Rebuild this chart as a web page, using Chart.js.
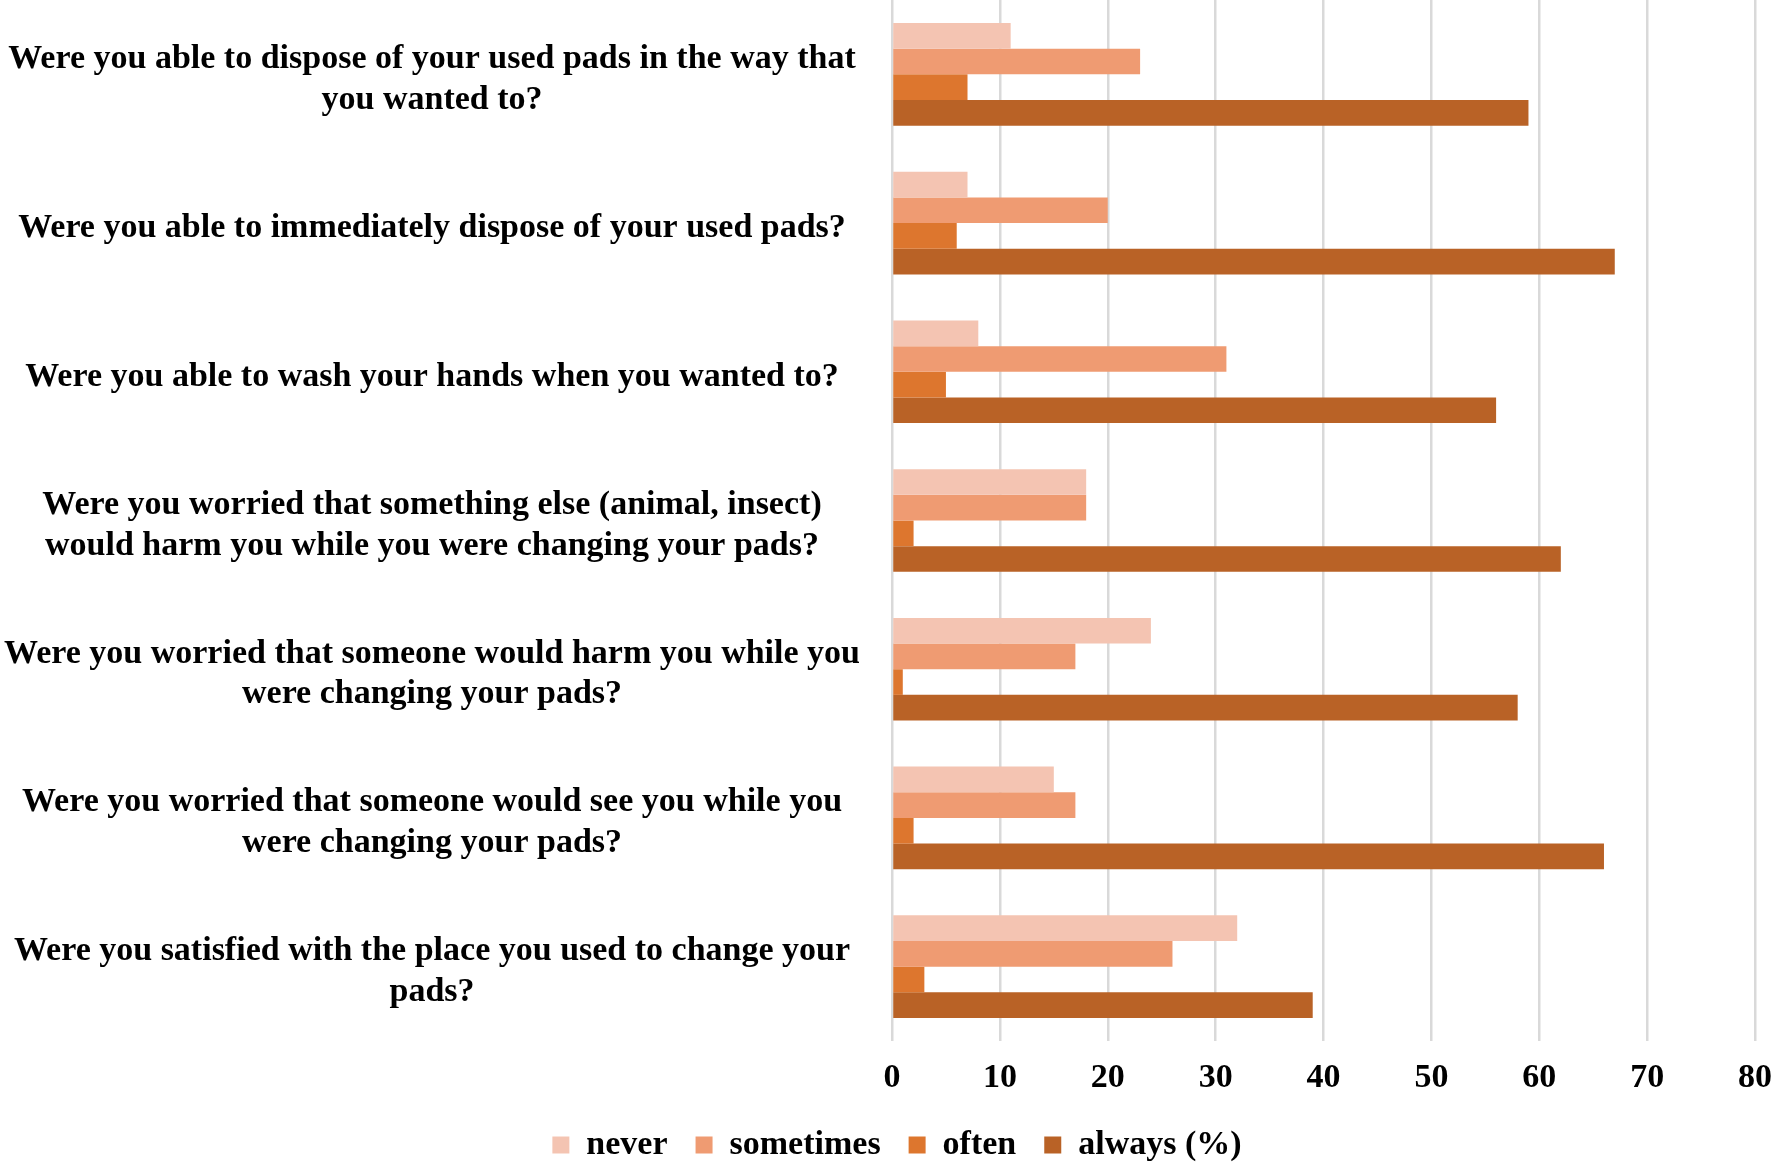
<!DOCTYPE html>
<html>

<head>
  <script src="https://cdn.jsdelivr.net/npm/chart.js@4/dist/chart.umd.min.js"></script>
  <style>
    body { margin: 0; background: #fff; }
    #wrap { width: 1776px; height: 1164px; }
  </style>
</head>

<body>
  <div id="wrap"><canvas id="myChart"></canvas></div>

  <script type="text/javascript">
    // questions (each one split into its lines)
    var questions = [
      ["Were you able to dispose of your used pads in the way that", "you wanted to?"],
      ["Were you able to immediately dispose of your used pads?"],
      ["Were you able to wash your hands when you wanted to?"],
      ["Were you worried that something else (animal, insect)", "would harm you while you were changing your pads?"],
      ["Were you worried that someone would harm you while you", "were changing your pads?"],
      ["Were you worried that someone would see you while you", "were changing your pads?"],
      ["Were you satisfied with the place you used to change your", "pads?"]
    ];

    //data (%)
    var never = [11, 7, 8, 18, 24, 15, 32];
    var sometimes = [23, 20, 31, 18, 17, 17, 26];
    var often = [7, 6, 5, 2, 1, 2, 3];
    var always = [59, 67, 56, 62, 58, 66, 39];

    var xTicks = [0, 10, 20, 30, 40, 50, 60, 70, 80];

    Chart.defaults.font.family = "'Liberation Serif', 'Times New Roman', serif";
    Chart.defaults.font.weight = 'bold';
    Chart.defaults.font.size = 34;
    Chart.defaults.color = '#000';

    //chart
    var ctx = document.getElementById('myChart').getContext('2d');
    var chart = new Chart(ctx, {
      type: 'bar',
      data: {
        labels: questions,
        datasets: [
          { label: 'never', data: never, backgroundColor: '#F4C4B2' },
          { label: 'sometimes', data: sometimes, backgroundColor: '#EF9B72' },
          { label: 'often', data: often, backgroundColor: '#DD762E' },
          { label: 'always (%)', data: always, backgroundColor: '#B96226' }
        ]
      },
      options: {
        indexAxis: 'y',
        responsive: true,
        maintainAspectRatio: false,
        animation: false,
        layout: { padding: { top: 0, right: -18, left: 0, bottom: 0 } },
        datasets: {
          bar: { barPercentage: 1, categoryPercentage: 0.69 }
        },
        scales: {
          x: {
            min: 0,
            max: 80,
            afterBuildTicks: function(axis) {
              axis.ticks = xTicks.map(function(v) { return { value: v }; });
            },
            afterFit: function(axis) {
              axis.height = 59;
              axis.paddingRight = 21;
            },
            grid: { color: '#D9D9D9', lineWidth: 2.5, drawTicks: false },
            border: { display: false },
            ticks: { padding: 17 }
          },
          y: {
            grid: { display: false, drawTicks: false },
            border: { display: false },
            ticks: { crossAlign: 'center', padding: 32, autoSkip: false, lineHeight: 1.17, labelOffset: 5 },
            afterFit: function(axis) {
              // wide label column, and no extra room above/below
              axis.width = 892;
              axis.paddingTop = 0;
              axis.paddingBottom = 0;
            }
          }
        },
        plugins: {
          legend: {
            position: 'bottom',
            maxHeight: 64,
            labels: { boxWidth: 17, boxHeight: 17, padding: 28 }
          },
          tooltip: { enabled: false }
        }
      }
    });
  </script>
</body>

</html>
